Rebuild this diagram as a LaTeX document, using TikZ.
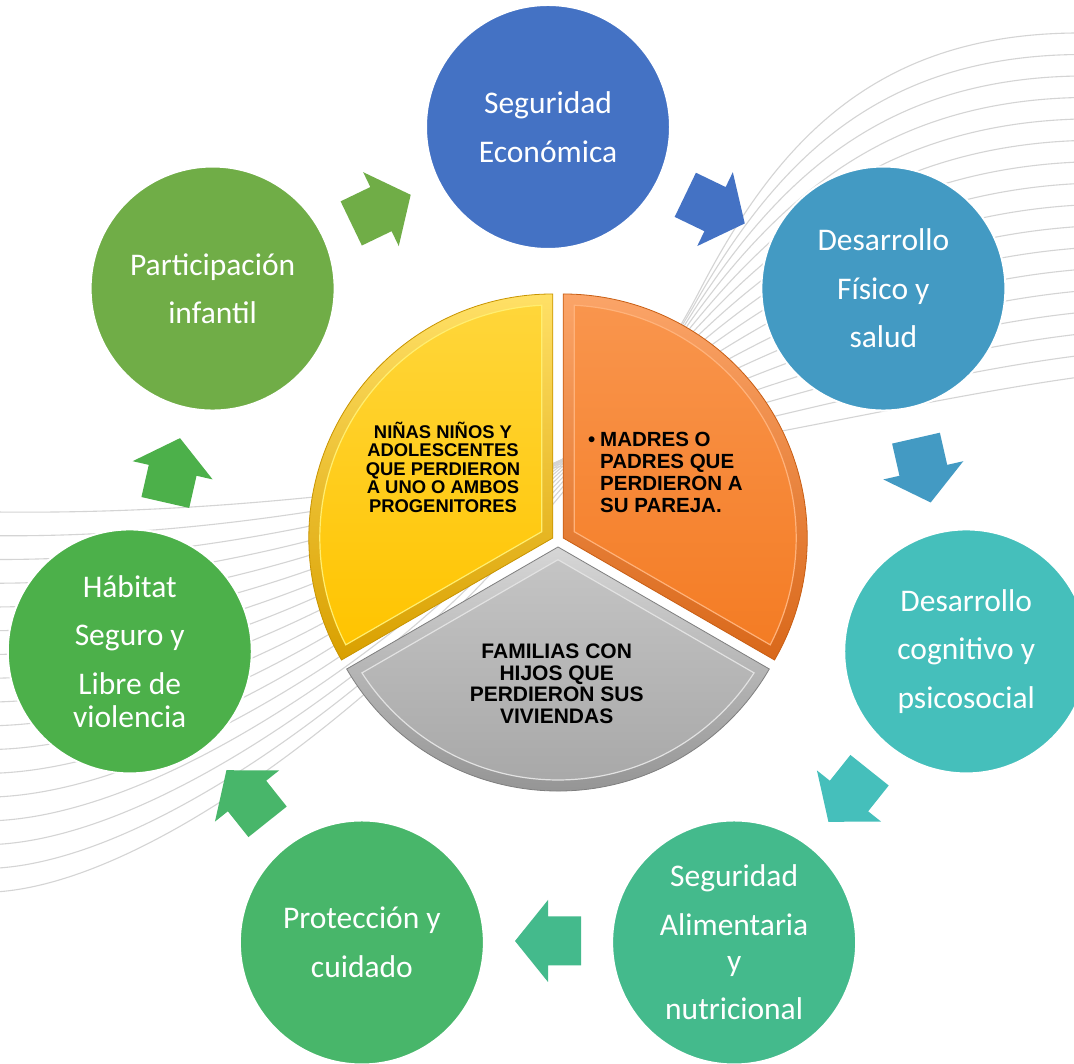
\documentclass[tikz,border=0pt]{standalone}
\usepackage{fontspec}
\setmainfont{Carlito}
\newfontfamily\arialfont{Liberation Sans}
\usetikzlibrary{calc}
\definecolor{cEco}{HTML}{4472C4}
\definecolor{cFis}{HTML}{439AC3}
\definecolor{cCog}{HTML}{45BFBB}
\definecolor{cAli}{HTML}{44BA8C}
\definecolor{cPro}{HTML}{48B66A}
\definecolor{cHab}{HTML}{4CB04A}
\definecolor{cPar}{HTML}{70AD47}
\definecolor{bgline}{HTML}{D4D4D4}
% pie colours
\definecolor{ybt}{HTML}{FFE066}\definecolor{ybb}{HTML}{D9A000}
\definecolor{yft}{HTML}{FFD63A}\definecolor{yfb}{HTML}{FFC400}
\definecolor{yhl}{HTML}{FFEE70}\definecolor{yol}{HTML}{C89400}
\definecolor{obt}{HTML}{FBA468}\definecolor{obb}{HTML}{D9681A}
\definecolor{oft}{HTML}{F9954D}\definecolor{ofb}{HTML}{F47C24}
\definecolor{ohl}{HTML}{FFB27A}\definecolor{ool}{HTML}{C85E14}
\definecolor{gbt}{HTML}{D6D6D6}\definecolor{gbb}{HTML}{8C8C8C}
\definecolor{gft}{HTML}{C4C4C4}\definecolor{gfb}{HTML}{A8A8A8}
\definecolor{ghl}{HTML}{E2E2E2}\definecolor{gol}{HTML}{7F7F7F}
\tikzset{
  bubble/.style={circle, minimum size=244pt, inner sep=0pt, draw=white, line width=2pt,
    text=white, align=center, font=\fontsize{31.5}{48.5}\selectfont},
  pietext/.style={inner sep=0pt, text=black, font=\arialfont\bfseries},
  bgcurve/.style={draw=bgline, line width=1.1pt},
  pics/blockarrow/.style={code={
    \fill[#1] (-33,-24.5) -- (0,-24.5) -- (0,-41) -- (33,0) -- (0,41) -- (0,24.5) -- (-33,24.5) -- cycle;}}
}
\begin{document}
\begin{tikzpicture}[x=1pt,y=1pt]
\fill[white] (0,0) rectangle (1074,1064);
\useasboundingbox (0,0) rectangle (1074,1064);
% background decorative curves
\foreach \i in {0,...,16}{
  \pgfmathsetmacro\t{\i/16}
  \pgfmathsetmacro\lx{-5}\pgfmathsetmacro\ly{1064-(512+380*\t)}
  \pgfmathsetmacro\ax{250-50*\t}\pgfmathsetmacro\ay{1064-(515+365*\t)}
  \pgfmathsetmacro\bx{450+110*\t}\pgfmathsetmacro\by{1064-(480+80*\t)}
  \pgfmathsetmacro\mx{650+50*\t}\pgfmathsetmacro\my{1064-(455-165*\t)}
  \pgfmathsetmacro\cx{800-20*\t}\pgfmathsetmacro\cy{1064-(430-294*\t)}
  \pgfmathsetmacro\dx{950-70*\t}\pgfmathsetmacro\dy{1064-(395-362*\t)}
  \pgfmathsetmacro\rx{1080}\pgfmathsetmacro\ry{1064-(377-344*\t)}
  \draw[bgcurve] (\lx,\ly) .. controls (\ax,\ay) and (\bx,\by) .. (\mx,\my)
     .. controls (\cx,\cy) and (\dx,\dy) .. (\rx,\ry);
}
% cycle of circles
\coordinate (ctr) at (548,508);
\node[bubble, fill=cEco] (eco) at ($(ctr)+(90:429)$) {Seguridad\\Económica};
\node[bubble, fill=cFis] (fis) at ($(ctr)+(38.571:429)$) {Desarrollo\\Físico y\\salud};
\node[bubble, fill=cCog] (cog) at ($(ctr)+(-12.857:429)$) {Desarrollo\\cognitivo y\\psicosocial};
\node[bubble, fill=cAli] (ali) at ($(ctr)+(-64.286:429)$) {Seguridad\\Alimentaria\\[-12.7pt]y\\nutricional};
\node[bubble, fill=cPro] (pro) at ($(ctr)+(-115.714:429)$) {Protección y\\cuidado};
\node[bubble, fill=cHab] (hab) at ($(ctr)+(-167.143:429)$) {Hábitat\\Seguro y\\Libre de\\[-15pt]violencia};
\node[bubble, fill=cPar] (par) at ($(ctr)+(141.429:429)$) {Participación\\infantil};
% block arrows between circles
\foreach \k/\col in {0/cPar,1/cEco,2/cFis,3/cCog,4/cAli,5/cPro,6/cHab}{
  \pgfmathsetmacro\ang{115.714-51.4286*\k}
  \pic[rotate=\ang-90] at ($(ctr)+(\ang:385)$) {blockarrow=\col};
}
% central pie
\coordinate (pc) at (558,523);
\foreach \b/\bt/\bb/\ft/\fb/\hl/\ol in {150/ybt/ybb/yft/yfb/yhl/yol, 30/obt/obb/oft/ofb/ohl/ool, 270/gbt/gbb/gft/gfb/ghl/gol}{
  \pgfmathsetmacro\aone{\b-60}
  \pgfmathsetmacro\atwo{\b+60}
  \pgfmathsetmacro\aonei{\b-60+2.706}
  \pgfmathsetmacro\atwoi{\b+60-2.706}
  \coordinate (apx) at ($(pc)+(\b:6)$);
  \shadedraw[top color=\bt, bottom color=\bb, draw=\ol, line width=0.8pt]
    (apx) -- ($(apx)+(\aone:244)$) arc[start angle=\aone, end angle=\atwo, radius=244] -- cycle;
  \shadedraw[top color=\ft, bottom color=\fb, draw=\hl, line width=1.2pt]
    ($(apx)+(\b:12.7)$) -- ($(apx)+(\aonei:233)$) arc[start angle=\aonei, end angle=\atwoi, radius=233] -- cycle;
}
\node[pietext, align=center, font=\arialfont\bfseries\fontsize{18.4}{18.4}\selectfont] (tyel) at (443,596.7)
  {NIÑAS NIÑOS Y\\ADOLESCENTES\\QUE PERDIERON\\A UNO O AMBOS\\PROGENITORES};
\node[pietext, align=left, anchor=west, font=\arialfont\bfseries\fontsize{20.5}{22}\selectfont] (tora) at (600,591.7)
  {\leavevmode\llap{•\hspace{5pt}}MADRES O\\PADRES QUE\\PERDIERON A\\SU PAREJA.};
\node[pietext, align=center, font=\arialfont\bfseries\fontsize{21}{21.4}\selectfont] (tgry) at (556.7,380.3)
  {FAMILIAS CON\\HIJOS QUE\\PERDIERON SUS\\VIVIENDAS};
\end{tikzpicture}
\end{document}
